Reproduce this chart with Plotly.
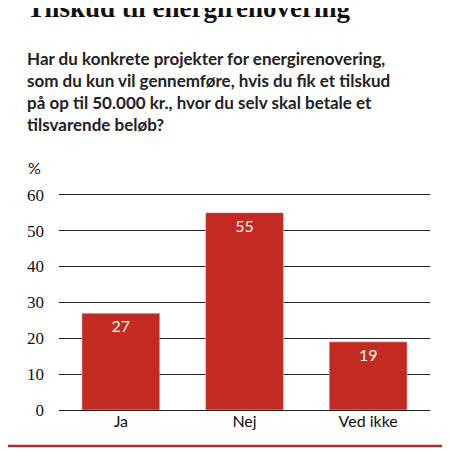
import plotly.graph_objects as go

categories = ["Ja", "Nej", "Ved ikke"]
values = [27, 55, 19]
tick_vals = [0, 10, 20, 30, 40, 50, 60]

OFF = 8  # page body margin offset
fig = go.Figure(go.Bar(
    x=categories, y=values, marker_color="#c22a22",
    text=[str(v) for v in values], textposition="inside", insidetextanchor="end",
    textfont=dict(color="white", size=16, family="Lato"),
))
W = 371.0
H = 217.0
def px(x): return (x - 59) / W
def py(y): return (410 - y) / H

fig.update_layout(
    width=450, height=450, margin=dict(l=59 - OFF, r=28, t=193 - OFF, b=48),
    paper_bgcolor="white", plot_bgcolor="white", bargap=0.37, showlegend=False,
    xaxis=dict(showgrid=False, showline=False, ticks="", tickfont=dict(size=16, family="Lato", color="#111")),
    yaxis=dict(range=[0, 60.5], tickvals=tick_vals, showgrid=True, gridcolor="#222", gridwidth=1.3,
               zeroline=True, zerolinecolor="#222", zerolinewidth=1.3, ticks="", ticklabelstandoff=14,
               tickfont=dict(size=17, family="Liberation Serif", color="#111")),
    shapes=[dict(type="rect", xref="paper", yref="paper", x0=px(3), x1=px(446), y0=py(446), y1=py(-20),
                 line=dict(color="#a8332c", width=2.5), fillcolor="rgba(0,0,0,0)", layer="below")],
)
ann = [
    dict(text="<b>Tilskud til energirenovering</b>", x=px(25), y=py(8), font=dict(size=27, family="Liberation Serif", color="#111")),
    dict(text="<b>Har du konkrete projekter for energirenovering,<br>som du kun vil gennemføre, hvis du fik et tilskud<br>på op til 50.000 kr., hvor du selv skal betale et<br>tilsvarende beløb?</b>",
         x=px(25), y=py(91), font=dict(size=17, family="Lato", color="#222"), align="left"),
    dict(text="%", x=px(26), y=py(167), font=dict(size=16, family="Lato", color="#111")),
]
for a in ann:
    fig.add_annotation(xref="paper", yref="paper", xanchor="left", yanchor="middle", showarrow=False, **a)
fig.write_html("out.html")
